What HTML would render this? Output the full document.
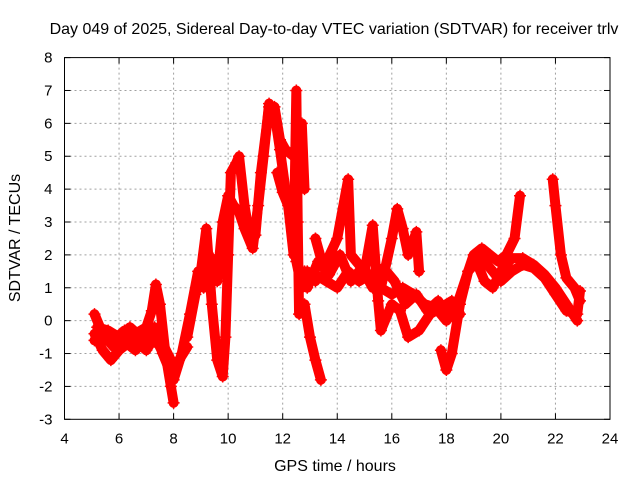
<!DOCTYPE html>
<html><head><meta charset="utf-8"><style>
html,body{margin:0;padding:0;background:#fff;}
svg{display:block;font-family:"Liberation Sans",sans-serif;}
</style></head><body>
<svg id="chart" width="640" height="480" viewBox="0 0 640 480">
<rect width="640" height="480" fill="#fff"/>
<text x="334" y="34" font-size="16" text-anchor="middle">Day 049 of 2025, Sidereal Day-to-day VTEC variation (SDTVAR) for receiver trlv</text>
<text x="335" y="471" font-size="16" text-anchor="middle">GPS time / hours</text>
<text x="0" y="0" font-size="16" text-anchor="middle" transform="translate(20,238) rotate(-90)">SDTVAR / TECUs</text>
<g id="grid"></g>
<g id="marks"></g>
<g id="axes"></g>
</svg>
<script>
const xTicks=[4,6,8,10,12,14,16,18,20,22,24];
const yTicks=[-3,-2,-1,0,1,2,3,4,5,6,7,8];
const trackA=[[5.1,0.2],[5.3,-0.2],[5.6,-0.6],[5.8,-0.8],[6.0,-0.7],[6.3,-0.5],[6.6,-0.4],[7.0,-0.2],[7.2,0.3],[7.35,1.1],[7.5,0.5],[7.7,-1.0],[7.9,-2.0],[8.0,-2.5]];
const trackB=[[5.1,-0.4],[5.4,-0.9],[5.7,-1.2],[6.0,-0.9],[6.3,-0.7],[6.6,-0.9],[7.0,-0.5],[7.3,-0.2],[7.6,-1.0],[7.9,-1.6],[8.2,-1.2],[8.5,-0.8]];
const trackC=[[5.1,-0.6],[5.5,-0.4],[5.8,-0.6],[6.2,-0.3],[6.6,-0.6],[7.0,-0.9],[7.3,-0.5],[7.6,-0.7],[7.9,-1.2]];
const trackD=[[8.0,-1.8],[8.3,-1.0],[8.6,0.2],[8.9,1.5],[9.1,1.0],[9.3,2.0],[9.6,1.2],[9.8,3.0],[10.0,3.8],[10.2,3.5],[10.4,3.3],[10.6,2.8],[10.9,2.2],[11.1,3.5],[11.3,5.0],[11.5,6.6],[11.7,6.3],[11.9,5.2],[12.1,4.0],[12.3,3.0],[12.5,1.8],[12.7,1.0],[12.9,1.5],[13.2,1.2]];
const trackE=[[8.5,-0.5],[8.8,0.8],[9.0,1.5],[9.2,2.8],[9.4,0.5],[9.6,-1.2],[9.8,-1.7],[9.9,-0.5],[10.0,2.0],[10.1,4.5],[10.3,4.8],[10.4,5.0],[10.6,3.5],[10.8,2.5],[11.0,2.6],[11.2,4.5],[11.5,6.5],[11.7,6.5],[11.9,5.5],[12.1,5.2],[12.4,5.0],[12.6,5.8],[12.7,6.0],[12.8,4.0]];
const trackF=[[11.8,4.5],[12.0,3.9],[12.2,3.5],[12.4,2.0],[12.5,7.0],[12.55,3.0],[12.6,0.2],[12.8,0.5],[13.0,-0.5],[13.2,-1.2],[13.4,-1.8]];
const trackG=[[12.8,1.5],[13.2,1.4],[13.6,1.2],[14.0,1.0],[14.4,1.5],[14.8,1.2],[15.2,1.4],[15.6,1.0],[16.0,0.8],[16.4,1.0],[16.8,0.8],[17.2,0.5],[17.6,0.4],[18.0,0.0],[18.3,0.3]];
const trackH=[[13.2,2.5],[13.5,1.6],[14.0,2.5],[14.4,4.3],[14.5,2.0],[15.0,1.5],[15.3,2.9],[15.5,0.6],[15.6,-0.3],[16.0,0.5],[16.3,0.3],[16.6,-0.5],[17.0,-0.3],[17.4,0.2],[17.8,0.4],[18.2,0.6],[18.5,0.2]];
const trackI=[[15.6,1.0],[16.0,2.5],[16.2,3.4],[16.4,2.8],[16.6,2.0],[16.9,2.7],[17.0,1.5]];
const trackJ=[[17.8,-0.9],[18.0,-1.5],[18.2,-1.0],[18.5,0.5],[18.8,1.5],[19.0,2.0],[19.3,2.2],[19.6,2.0],[19.9,1.8],[20.2,2.0],[20.5,2.5],[20.7,3.8]];
const trackK=[[18.0,0.0],[18.4,0.5],[18.8,1.5],[19.1,1.8],[19.4,1.2],[19.7,1.0],[20.0,1.5],[20.4,1.9],[20.8,1.9],[21.2,1.7],[21.6,1.4],[22.0,1.0],[22.4,0.5],[22.8,0.0]];
const trackL=[[19.2,2.0],[19.6,1.6],[20.0,1.2],[20.4,1.5],[20.8,1.7],[21.2,1.6],[21.6,1.3],[22.0,0.8],[22.4,0.3],[22.8,0.2],[22.9,0.9]];
const trackM=[[21.9,4.3],[22.0,3.5],[22.2,2.0],[22.4,1.3],[22.7,1.0],[22.9,0.6]];
const trackN=[[12.9,1.0],[13.3,1.8],[13.7,1.4],[14.1,2.0],[14.5,1.2],[14.9,1.6],[15.3,1.0],[15.7,1.6],[16.1,1.2],[16.5,0.5],[16.9,0.8],[17.3,0.3],[17.7,0.6],[18.0,0.2]];
const trackO=[[5.2,-0.2],[5.6,-0.3],[6.0,-0.5],[6.4,-0.2],[6.8,-0.5],[7.2,-0.3],[7.5,-0.8],[7.8,-1.3]];
const tracks=[trackA,trackB,trackC,trackD,trackE,trackF,trackG,trackH,trackI,trackJ,trackK,trackL,trackM,trackN,trackO];

const L=64.5,R=610,T=57.6,B=419.3;
const xs=h=>L+(h-4)*(R-L)/20;
const ys=v=>B-(v+3)*(B-T)/11;
const NS="http://www.w3.org/2000/svg";
function mk(tag,attrs,parent){const e=document.createElementNS(NS,tag);for(const k in attrs)e.setAttribute(k,attrs[k]);parent.appendChild(e);return e;}
const grid=document.getElementById('grid'),axes=document.getElementById('axes'),marks=document.getElementById('marks');
xTicks.forEach(t=>{
  const x=xs(t);
  if(t>4&&t<24){const g=mk('line',{x1:x,x2:x,y1:T,y2:B,stroke:'#a0a0a0','stroke-dasharray':'2,3'},grid);
  
  }
  mk('line',{x1:x,x2:x,y1:B,y2:B-6,stroke:'#000'},axes);
  mk('line',{x1:x,x2:x,y1:T,y2:T+6,stroke:'#000'},axes);
  const lb=mk('text',{x:x,y:B+24,'font-size':15,'text-anchor':'middle'},axes);lb.textContent=t;
  
  
});
yTicks.forEach(t=>{
  const y=ys(t);
  if(t>-3&&t<8){const g=mk('line',{x1:L,x2:R,y1:y,y2:y,stroke:'#a0a0a0','stroke-dasharray':'2,3'},grid);
  
  }
  mk('line',{x1:L,x2:L+6,y1:y,y2:y,stroke:'#000'},axes);
  mk('line',{x1:R,x2:R-6,y1:y,y2:y,stroke:'#000'},axes);
  const lb=mk('text',{x:L-12,y:y+5,'font-size':15,'text-anchor':'end'},axes);lb.textContent=t;
  
  
});
const fr=mk('rect',{x:L,y:T,width:R-L,height:B-T,fill:'none',stroke:'#000'},axes);


tracks.forEach(tr=>{
  const pts=tr.map(p=>xs(p[0])+','+ys(p[1])).join(' ');
  const pl=mk('polyline',{points:pts,fill:'none',stroke:'#ff0000','stroke-width':10,'stroke-linejoin':'round','stroke-linecap':'round'},marks);
  
  
  tr.forEach(p=>{
    const x=xs(p[0]),y=ys(p[1]);
    const m=mk('path',{d:`M${x-6},${y}H${x+6}M${x},${y-6}V${y+6}`,stroke:'#ff0000','stroke-width':1.5},marks);
    
    
  });
});
</script>
</body></html>
